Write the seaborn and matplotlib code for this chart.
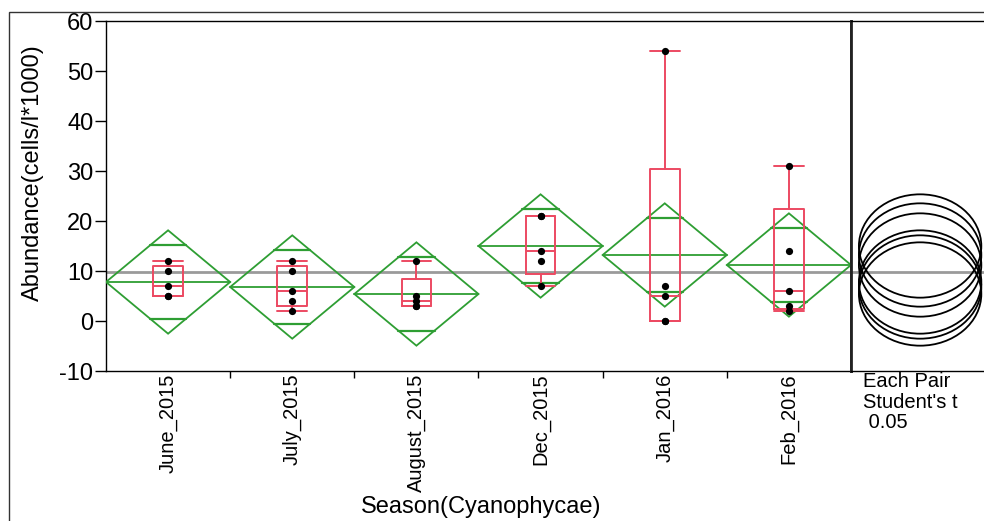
import numpy as np
import pandas as pd
import matplotlib
matplotlib.use("Agg")
import matplotlib.pyplot as plt
import matplotlib.transforms as mtransforms
import seaborn as sns
from matplotlib.patches import Ellipse, Polygon, Rectangle

# ---- data -------------------------------------------------------------
seasons = ["June_2015", "July_2015", "August_2015", "Dec_2015", "Jan_2016", "Feb_2016"]
june_2015 = [12, 10, 7, 5, 5]
july_2015 = [12, 10, 6, 4, 2]
august_2015 = [12, 5, 4, 3, 3]
dec_2015 = [21, 21, 14, 12, 7]
jan_2016 = [54, 7, 5, 0, 0]
feb_2016 = [31, 14, 6, 3, 2]
groups = [june_2015, july_2015, august_2015, dec_2015, jan_2016, feb_2016]
y_ticks = [-10, 0, 10, 20, 30, 40, 50, 60]
t_crit = 2.0639  # Student's t, alpha = 0.05, df = 24

df = pd.DataFrame({
    "Season": np.repeat(seasons, [len(g) for g in groups]),
    "Abundance": np.concatenate(groups).astype(float),
})

# ---- one-way ANOVA summaries -----------------------------------------
means = np.array([np.mean(g) for g in groups])
ns = np.array([len(g) for g in groups])
sse = sum(((np.array(g) - np.mean(g)) ** 2).sum() for g in groups)
dfe = ns.sum() - len(groups)
s_pooled = np.sqrt(sse / dfe)
half_ci = t_crit * s_pooled / np.sqrt(ns)
grand_mean = df["Abundance"].mean()

RED = "#EC4A62"
GREEN = "#2E9E33"
GRAY = "#9A9A9A"

sns.set_theme(style="white")
plt.rcParams["font.family"] = ["Liberation Sans", "DejaVu Sans"]
plt.rcParams.update({"text.color": "black", "axes.labelcolor": "black",
                     "xtick.color": "black", "ytick.color": "black"})

W, H = 984, 521
fig = plt.figure(figsize=(W / 100, H / 100), dpi=100)


def px_axes(l, t, r, b):
    return fig.add_axes([l / W, 1 - b / H, (r - l) / W, (b - t) / H])


ax = px_axes(106, 21, 851, 371)
ax2 = px_axes(851, 21, 995, 371)

# outer report frame
fig.patches.append(Rectangle((9 / W, -0.1), 1.2, 1.1 - 12 / H, transform=fig.transFigure,
                             fill=False, edgecolor="#333333", lw=1.0, zorder=0))

# grand mean
ax.axhline(grand_mean, color=GRAY, lw=2, zorder=1)
ax2.axhline(grand_mean, color=GRAY, lw=2, zorder=1)

# means diamonds with overlap marks
k = 1 / np.sqrt(2)
for i, (m, hw) in enumerate(zip(means, half_ci)):
    ax.add_patch(Polygon([(i - 0.5, m), (i, m + hw), (i + 0.5, m), (i, m - hw)],
                         closed=True, fill=False, edgecolor=GREEN, lw=1.3, zorder=3))
    ax.plot([i - 0.5, i + 0.5], [m, m], color=GREEN, lw=1.3, zorder=3)
    dx = 0.5 * (1 - k)
    for sgn in (1, -1):
        ax.plot([i - dx, i + dx], [m + sgn * hw * k] * 2, color=GREEN, lw=1.6, zorder=3)

# outlier box plots (quartiles by the (n+1)p rule)
stats = []
for name, g in zip(seasons, groups):
    a = np.array(g, dtype=float)
    q1, med, q3 = np.percentile(a, [25, 50, 75], method="weibull")
    iqr = q3 - q1
    lo = a[a >= q1 - 1.5 * iqr].min()
    hi = a[a <= q3 + 1.5 * iqr].max()
    stats.append(dict(label=name, q1=q1, med=med, q3=q3, whislo=lo, whishi=hi, fliers=[]))
line = dict(color=RED, lw=1.4)
ax.bxp(stats, positions=range(len(seasons)), widths=0.24, capwidths=0.24,
       showfliers=False, manage_ticks=False, boxprops=line, whiskerprops=line,
       capprops=line, medianprops=line, zorder=4)

# observations
sns.stripplot(data=df, x="Season", y="Abundance", order=seasons, jitter=False,
              color="black", size=5.2, ax=ax, zorder=5)

ax.set_xlim(-0.5, len(seasons) - 0.5)
ax.set_ylim(-10, 60)
ax.set_yticks(y_ticks)
ax.set_yticklabels([str(v) for v in y_ticks], fontsize=17)
ax.set_xticks(np.arange(0.5, len(seasons) - 0.5, 1))
ax.set_xticklabels([])
ax.set_xticks(np.arange(len(seasons)), minor=True)
ax.set_xticklabels(seasons, minor=True, rotation=90, fontsize=14.5, va="top")
shift = mtransforms.ScaledTranslation(4 / 100, 0, fig.dpi_scale_trans)
for lab in ax.get_xticklabels(minor=True):
    lab.set_transform(lab.get_transform() + shift)
ax.tick_params(axis="y", which="major", direction="out", length=8, width=1, color="black",
               left=True, pad=1)
ax.tick_params(axis="x", which="major", direction="out", length=5, width=1, color="black",
               bottom=True)
ax.tick_params(axis="x", which="minor", length=0, pad=2, bottom=True)
ax.set_xlabel("")
ax.set_ylabel("")
for sp in ax.spines.values():
    sp.set_color("black")
    sp.set_linewidth(1)
ax.spines["right"].set_linewidth(2)
ax.spines["right"].set_color("#222222")

# comparison circles
ax2.set_xlim(0, 1)
ax2.set_ylim(-10, 60)
for m, hw in zip(means, half_ci):
    ax2.add_patch(Ellipse((0.48, m), width=0.85, height=2 * hw, fill=False,
                          edgecolor="black", lw=1.3, zorder=3))
ax2.set_xticks([])
ax2.set_yticks([])
for name, sp in ax2.spines.items():
    sp.set_color("black")
    sp.set_linewidth(1)
ax2.spines["left"].set_linewidth(2)
ax2.spines["left"].set_color("#222222")
ax2.spines["right"].set_visible(False)

fig.text(863 / W, 1 - 372 / H, "Each Pair\nStudent's t\n 0.05", fontsize=14.5,
         ha="left", va="top", linespacing=1.1)
fig.text(481 / W, 1 - 507 / H, "Season(Cyanophycae)", fontsize=17, ha="center", va="center")
fig.text(33 / W, 1 - 173 / H, "Abundance(cells/l*1000)", fontsize=17, rotation=90,
         ha="center", va="center")

fig.savefig("out.png", dpi=100)
